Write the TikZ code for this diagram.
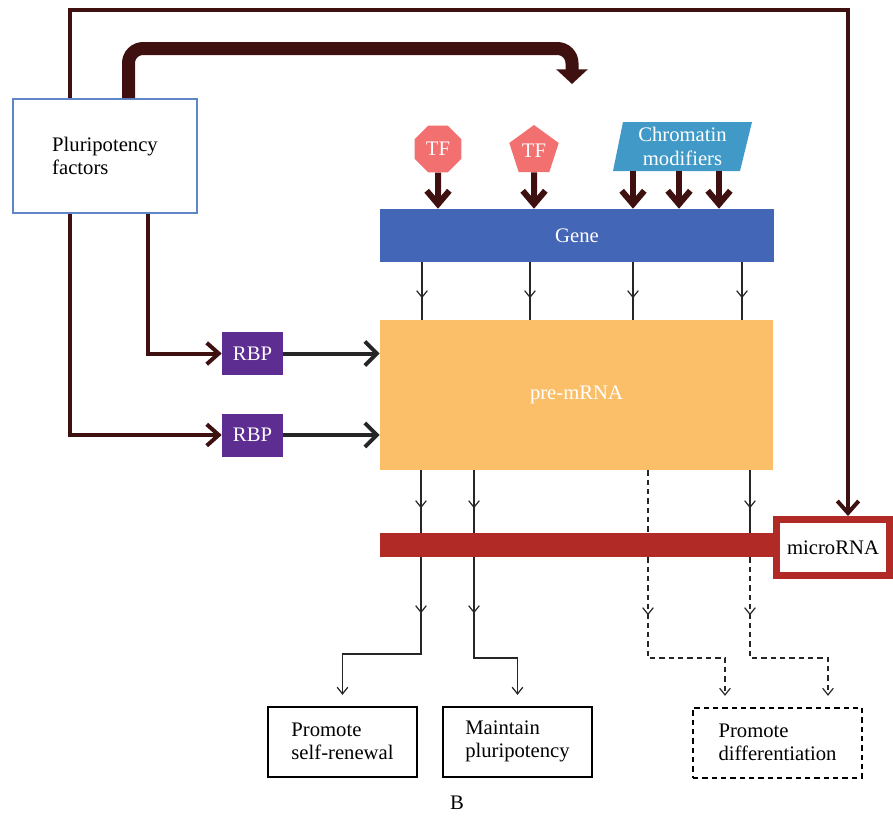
\documentclass[tikz,border=0pt]{standalone}
\usepackage{fontspec}
\setmainfont{Liberation Serif}
\usetikzlibrary{arrows.meta,shapes.geometric,decorations.markings,shadows}

\definecolor{brownc}{RGB}{62,16,16}
\definecolor{genec}{RGB}{68,102,182}
\definecolor{prec}{RGB}{251,191,106}
\definecolor{barc}{RGB}{178,42,37}
\definecolor{tfc}{RGB}{242,112,112}
\definecolor{chromc}{RGB}{64,153,198}
\definecolor{rbpc}{RGB}{93,45,145}
\definecolor{plurc}{RGB}{95,135,200}

\tikzset{
  lbl/.style={font=\fontsize{15.5}{17.5}\selectfont, inner sep=0pt},
  wlbl/.style={lbl, text=white},
  rbpbox/.style={wlbl, fill=rbpc, minimum width=45.75pt, minimum height=32.25pt},
  outbox/.style={lbl, draw, line width=1.5pt, minimum height=52.5pt, align=left},
  brownln/.style={draw=brownc, line width=3pt, -{Straight Barb[length=9pt,width=16pt]}},
  thickarr/.style={draw=brownc, line width=4.5pt, -{Straight Barb[length=10pt,width=17pt]}},
  blackarr/.style={draw=black!85, line width=3pt, -{Straight Barb[length=9pt,width=18pt]}},
  thinln/.style={line width=0.9pt, draw=black!85},
  midarr/.style={postaction={decorate}, decoration={markings,
      mark=at position #1 with {\arrow{Straight Barb[length=5pt,width=8pt]}}}},
  endtip/.style={-{Straight Barb[length=5pt,width=8pt]}, shorten >=8pt},
  dashln/.style={dash pattern=on 4pt off 3pt},
}

\begin{document}
\begin{tikzpicture}[x=0.75pt,y=0.75pt,yscale=-1,xscale=1]
        \useasboundingbox (0,0) rectangle (893,815);

        %Columns
        \coordinate (o1) at (70,0);
        \coordinate (o2) at (848,10);
        \coordinate (o3) at (148,0);
        \coordinate (o4) at (128.5,48.5);
        \coordinate (o5) at (572,48.5);
        \coordinate (tipc) at (572,84);
        \coordinate (g1) at (422,0);
        \coordinate (g2) at (530,0);
        \coordinate (g3) at (633,0);
        \coordinate (g4) at (742,0);
        \coordinate (c1) at (633,0);
        \coordinate (c2) at (679,0);
        \coordinate (c3) at (719,0);
        \coordinate (p1) at (421,0);
        \coordinate (p2) at (474,0);
        \coordinate (p3) at (648,0);
        \coordinate (p4) at (750,0);
        \coordinate (d1) at (725,0);
        \coordinate (d2) at (828,0);
        \coordinate (turnA) at (0,654);
        \coordinate (turnB) at (0,658);

        %Shape: Rectangle
        \node [lbl, draw=plurc, line width=1.2pt, fill=white, align=left,
               minimum width=138pt, minimum height=85.5pt,
               drop shadow={opacity=0.25, shadow xshift=1pt, shadow yshift=-1pt}]
               (plur) at (105,156) {Pluripotency\\factors};
        \node [wlbl, fill=genec, minimum width=295.5pt, minimum height=39.75pt] (gene) at (577,235.5) {Gene};
        \node [wlbl, fill=prec, minimum width=294.75pt, minimum height=112.5pt] (pre) at (576.5,395) {pre-mRNA};
        \node [rbpbox] (rbpa) at (252.5,353.5) {RBP};
        \node [rbpbox] (rbpb) at (252.5,435) {RBP};

        %Shape: Polygons
        \node [wlbl, regular polygon, regular polygon sides=8, minimum size=38pt, fill=tfc] (tfa) at (438,149) {TF};
        \node [wlbl, regular polygon, regular polygon sides=5, minimum size=39pt, fill=tfc] (tfb) at (534,151) {TF};
        \fill [chromc] (613,171) -- (623,122) -- (752,122) -- (740,171) -- cycle;
        \node [wlbl, align=center, minimum width=95pt, minimum height=36.75pt] (chrom) at (682.5,146.5) {Chromatin\\modifiers};

        %Shape: Rectangle
        \node [minimum width=294.75pt, minimum height=18pt, inner sep=0pt, fill=barc] (bar) at (576.5,545) {};
        \node [lbl, draw=barc, line width=5.25pt, fill=white, minimum width=84.75pt, minimum height=42pt] (mirna) at (833,547.5) {microRNA};

        %Straight Lines: gene to pre-mRNA
        \foreach \c in {g1,g2,g3,g4}
          \draw [thinln, midarr=27pt] (gene.south -| \c) -- (pre.north -| \c);
        %Straight Lines: pre-mRNA to microRNA
        \foreach \c in {p1,p2,p4}
          \draw [thinln, midarr=28.5pt] (pre.south -| \c) -- (bar.north -| \c);
        \draw [thinln, dashln] (pre.south -| p3) -- (bar.north -| p3);

        %Shape: Output boxes
        \node [outbox, minimum width=111.75pt] (renew) at (342.5,741.5) {Promote\\self-renewal};
        \node [outbox, minimum width=111.75pt] (pluri) at (517.5,741.5) {Maintain\\pluripotency};
        \node [outbox, dashln, minimum width=126.75pt] (diff) at (777.5,742.5) {Promote\\differentiation};

        %Straight Lines: microRNA to outputs
        \draw [thinln, midarr=42pt, endtip] (bar.south -| p1) -- (p1 |- turnA) -| (renew.north);
        \draw [thinln, midarr=42pt, endtip] (bar.south -| p2) -- (p2 |- turnB) -| (pluri.north);
        \draw [thinln, dashln, midarr=43.5pt, endtip] (bar.south -| p3) -- (p3 |- turnB) -| (diff.north -| d1);
        \draw [thinln, dashln, midarr=43.5pt, endtip] (bar.south -| p4) -- (p4 |- turnB) -| (diff.north -| d2);

        %Thick arrows onto the gene
        \draw [thickarr] (tfa.south) -- (gene.north -| tfa);
        \draw [thickarr] (tfb.south) -- (gene.north -| tfb);
        \foreach \c in {c1,c2,c3}
          \draw [thickarr] (chrom.south -| \c) -- (gene.north -| \c);

        %Pluripotency factor links
        \draw [brownln] (plur.north -| o1) |- (o2) -- (mirna.north -| o2);
        \draw [brownln] (plur.south -| o3) |- (rbpa.west);
        \draw [brownln] (plur.south -| o1) |- (rbpb.west);
        \draw [draw=brownc, line width=9.75pt, rounded corners=11pt, -{Triangle[length=11pt,width=23pt]}]
              (plur.north -| o4) -- (o4) -- (o5) -- (tipc);

        %RBP to pre-mRNA
        \draw [blackarr] (rbpa.east) -- (rbpa -| pre.west);
        \draw [blackarr] (rbpb.east) -- (rbpb -| pre.west);

        % Text Node
        \node [lbl] (caption) at (457,803) {B};
\end{tikzpicture}
\end{document}
